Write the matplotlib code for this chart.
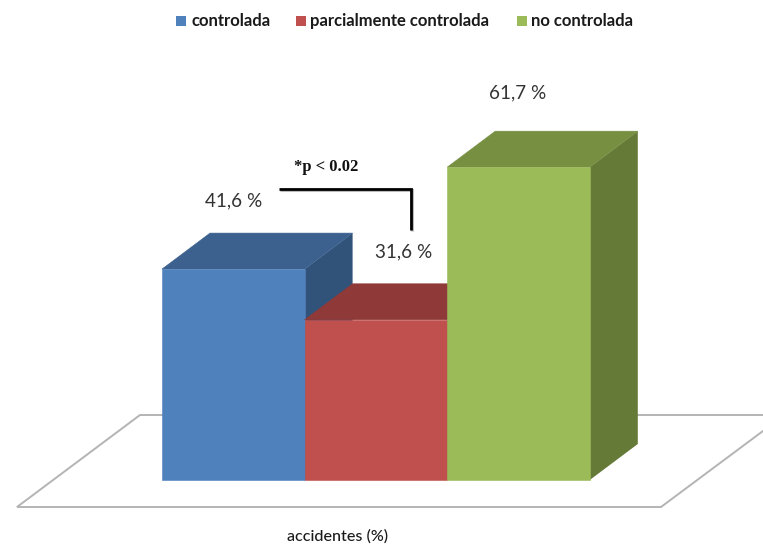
import matplotlib
matplotlib.use("Agg")
import matplotlib.pyplot as plt
from matplotlib.patches import Polygon, Rectangle
from matplotlib.transforms import Affine2D

categories = ["controlada", "parcialmente controlada", "no controlada"]
values = [41.6, 31.6, 61.7]
value_labels = ["41,6 %", "31,6 %", "61,7 %"]
front_colors = ["#4F81BD", "#C0504D", "#9BBB59"]
top_colors = ["#3C618F", "#8F3A38", "#778F41"]
side_colors = ["#315279", "#7A3230", "#667A38"]
axis_label = "accidentes (%)"
note = "*p < 0.02"

W, H = 763, 546
PX_PER_CAT = 142.6
PX_PER_VAL = 5.07
X0, Y0 = 162, 480
DEPTH_X = 48 / PX_PER_CAT
DEPTH_Y = 36 / PX_PER_VAL

fig = plt.figure(figsize=(W / 100, H / 100), dpi=100, facecolor="white")
ax = fig.add_axes([0, 0, 1, 1])
ax.set_xlim(-X0 / PX_PER_CAT, (W - X0) / PX_PER_CAT)
ax.set_ylim(-(H - Y0) / PX_PER_VAL, Y0 / PX_PER_VAL)
ax.axis("off")

# Screen-pixel transform (origin at top left) for the floor, legend and notes
px = Affine2D().scale(1, -1).translate(0, H)

# Floor outline, open at the right where it runs off the canvas
floor_color = "#B4B4B4"
ax.plot([763, 140, 17, 661, 763], [415, 415, 507, 507, 431],
        transform=px, color=floor_color, lw=1.4, zorder=1, clip_on=False,
        solid_joinstyle="miter")

# Oblique 3D columns: side, then top, then front
for i, (v, fc, tc, sc) in enumerate(zip(values, front_colors, top_colors, side_colors)):
    z = 2 + i
    ax.add_patch(Polygon([(i + 1, 0), (i + 1 + DEPTH_X, DEPTH_Y),
                          (i + 1 + DEPTH_X, v + DEPTH_Y), (i + 1, v)],
                         closed=True, fc=sc, ec="none", zorder=z))
    ax.add_patch(Polygon([(i, v), (i + DEPTH_X, v + DEPTH_Y),
                          (i + 1 + DEPTH_X, v + DEPTH_Y), (i + 1, v)],
                         closed=True, fc=tc, ec=tc, lw=0.4, zorder=z))
    ax.add_patch(Rectangle((i, 0), 1, v, fc=fc, ec=fc, lw=0.4, zorder=z))

# Value labels
label_pos = [(234, 201), (404, 252), (518, 93)]
for (x, y), s in zip(label_pos, value_labels):
    ax.text(x, y, s, transform=px, family="Lato", fontsize=13.6, color="#333333",
            ha="center", va="center", zorder=10)

# Significance bracket with a soft shadow
bx, by = [279, 411, 411], [189, 189, 230]
ax.plot([x + 1 for x in bx], [y + 1 for y in by], transform=px, color="#BBBBBB",
        lw=2.2, zorder=9, solid_joinstyle="miter", solid_capstyle="butt")
ax.plot(bx, by, transform=px, color="black", lw=2.0, zorder=10,
        solid_joinstyle="miter", solid_capstyle="butt")
ax.text(326, 167, note, transform=px, family="Liberation Serif", fontweight="bold",
        fontsize=12, color="#111111", ha="center", va="center", zorder=10)

# Legend row
swatches = [176, 296, 517]
text_x = [191, 310, 531]
for sx, tx, c, name in zip(swatches, text_x, front_colors, categories):
    ax.add_patch(Rectangle((sx, 16), 10, 9.5, transform=px, fc=c, ec="none", zorder=10))
    ax.text(tx, 21, name, transform=px, family="Lato", fontweight="bold",
            fontsize=12, color="#1A1A1A", ha="left", va="center", zorder=10)

ax.text(338, 536, axis_label, transform=px, family="Lato", fontweight="medium",
        fontsize=11.6, color="#1A1A1A", ha="center", va="center", zorder=10)

fig.savefig("out.png", dpi=100, facecolor="white")
